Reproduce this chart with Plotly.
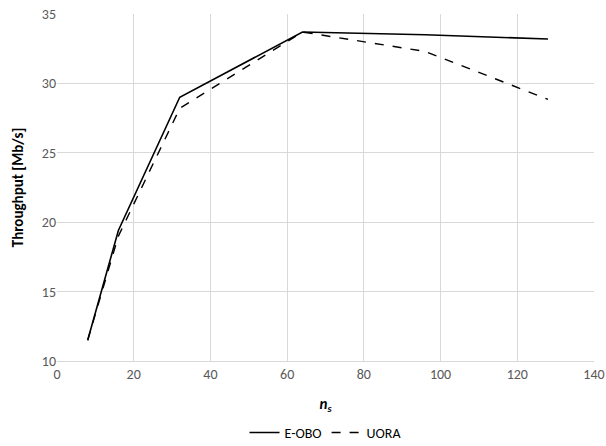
import plotly.graph_objects as go

ns = [8, 16, 32, 64, 96, 128]
e_obo = [11.5, 19.4, 29.0, 33.7, 33.5, 33.2]
uora = [11.5, 19.0, 28.2, 33.7, 32.3, 28.85]

FONT = "Calibri, Carlito, Lato, 'Open Sans', sans-serif"

fig = go.Figure()
fig.add_trace(go.Scatter(x=ns, y=e_obo, mode="lines", name="E-OBO",
                         line=dict(color="black", width=1.6)))
fig.add_trace(go.Scatter(x=ns, y=uora, mode="lines", name="UORA",
                         line=dict(color="black", width=1.4, dash="dash")))

fig.update_layout(
    width=606, height=446,
    margin=dict(l=57, r=12, t=14, b=85, autoexpand=False),
    paper_bgcolor="white", plot_bgcolor="white",
    font=dict(family=FONT, size=14, color="#595959"),
    showlegend=True,
    legend=dict(orientation="h", x=0.5, xanchor="center", y=-0.207, yanchor="middle",
                font=dict(size=14, color="black"), traceorder="normal",
                itemwidth=30),
    xaxis=dict(range=[0, 140], dtick=20, tick0=0, showgrid=True, gridcolor="#d9d9d9",
               gridwidth=1, zeroline=False, showline=True, linecolor="#d9d9d9",
               ticks="", tickfont=dict(size=14, color="#595959"), automargin=False,
               ticklabeloverflow="allow",
               title=dict(text="<b><i>n<sub>s</sub></i></b>", font=dict(size=15, color="black"),
                          standoff=16)),
    yaxis=dict(range=[10, 35], dtick=5, showgrid=True, gridcolor="#d9d9d9",
               gridwidth=1, zeroline=False, showline=False, ticks="", automargin=False,
               ticklabeloverflow="allow",
               tickfont=dict(size=14, color="#595959"),
               title=dict(text="<b>Throughput [Mb/s]</b>", font=dict(size=15, color="black"),
                          standoff=14)),
)

fig.write_html("out.html", config={"displayModeBar": False},
               post_script="document.body.style.margin='0';document.body.style.overflow='hidden';")
